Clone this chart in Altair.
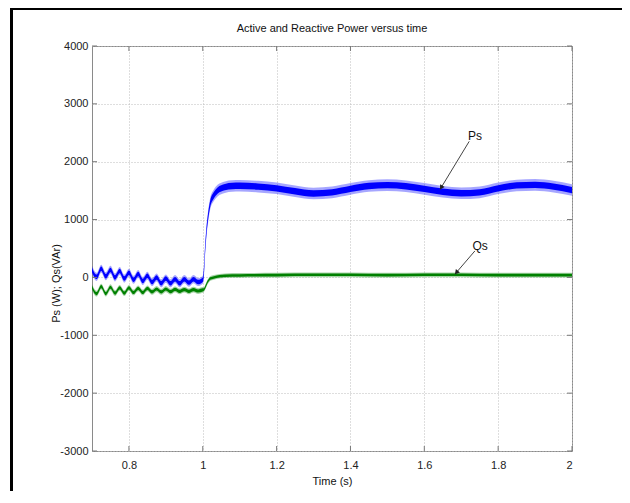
import math
import altair as alt
import pandas as pd

# ---------------- data ----------------
t_osc = [0.7, 0.7125, 0.725, 0.7375, 0.75, 0.7625, 0.775, 0.7875, 0.8, 0.8125,
         0.825, 0.8375, 0.85, 0.8625, 0.875, 0.8875, 0.9, 0.9125, 0.925, 0.9375,
         0.95, 0.9625, 0.975, 0.9875, 1.0]

ps_osc = [130, 10, 150, 20, 130, 0, 110, -20, 80, -40,
          60, -60, 30, -80, 0, -100, -20, -100, -30, -100,
          -30, -90, -30, -80, -40]
qs_osc = [-170, -280, -160, -280, -170, -270, -180, -270, -180, -260,
          -190, -260, -190, -250, -200, -250, -200, -245, -205, -240,
          -210, -240, -210, -235, -215]

ps_t_after = [1.003, 1.006, 1.01, 1.015, 1.02, 1.03, 1.04, 1.06, 1.08, 1.1,
              1.15, 1.2, 1.25, 1.3, 1.35, 1.4, 1.45, 1.5, 1.55, 1.6,
              1.65, 1.7, 1.75, 1.8, 1.85, 1.9, 1.95, 2.0]
ps_v_after = [100, 450, 800, 1080, 1270, 1420, 1500, 1560, 1580, 1585,
              1570, 1540, 1490, 1450, 1470, 1530, 1580, 1595, 1575, 1530,
              1480, 1455, 1470, 1540, 1590, 1600, 1570, 1510]

qs_t_after = [1.003, 1.008, 1.012, 1.016, 1.02, 1.03, 1.045, 1.06, 1.1, 1.2,
              1.3, 1.4, 1.5, 1.6, 1.7, 1.8, 1.9, 2.0]
qs_v_after = [-210, -150, -90, -50, -20, 0, 20, 30, 35, 40,
              45, 45, 40, 45, 45, 40, 40, 40]

# half thickness of the noisy trace (W / VAr), before and after the step
ps_spread = [70, 100]
qs_spread = [50, 40]

series_names = ["Ps", "Qs"]
series_colors = ["#0000ff", "#008000"]

x_ticks = [0.8, 1.0, 1.2, 1.4, 1.6, 1.8, 2.0]
y_ticks = [-3000, -2000, -1000, 0, 1000, 2000, 3000, 4000]

annot_labels = ["Ps", "Qs"]
annot_text_t = [1.737, 1.751]
annot_text_v = [2450, 544]
arrow_start_t = [1.7216, 1.737]
arrow_start_v = [2352, 458]
arrow_tip_t = [1.6426, 1.683]
arrow_tip_v = [1521, 57]

title_text = "Active and Reactive Power versus time"
x_title = "Time (s)"
y_title = "Ps (W); Qs(VAr)"

# ---------------- layout ----------------
W, H = 480, 405
PAD_L, PAD_T, PAD_R, PAD_B = 84, 38, 50, 40
X0, X1 = 0.7, 2.0
Y0, Y1 = -3000, 4000
FONT = "Liberation Sans"

rows = []
def add_series(name, ts, vs, spread):
    for t, v in zip(ts, vs):
        s = spread[0] if t <= 1.0 else spread[1]
        rows.append({"series": name, "t": t, "lo": v - s, "hi": v + s,
                     "lo_in": v - 0.55 * s, "hi_in": v + 0.55 * s})

add_series("Ps", t_osc + ps_t_after, ps_osc + ps_v_after, ps_spread)
add_series("Qs", t_osc + qs_t_after, qs_osc + qs_v_after, qs_spread)
df = pd.DataFrame(rows)

xscale = alt.Scale(domain=[X0, X1], nice=False, zero=False)
yscale = alt.Scale(domain=[Y0, Y1], nice=False, zero=False)
cscale = alt.Scale(domain=series_names, range=series_colors)

x_axis = alt.Axis(values=x_ticks, format=".1~f", tickSize=0, domain=False,
                  grid=True, gridDash=[1, 2], gridColor="#bdbdbd",
                  labelFont=FONT, labelFontSize=11, labelColor="#222",
                  labelPadding=8, title=x_title, titleFont=FONT,
                  titleFontSize=11, titleFontWeight="normal", titleColor="#111",
                  titlePadding=5)
y_axis = alt.Axis(values=y_ticks, labelExpr="'' + datum.value", tickSize=0,
                  domain=False, grid=True, gridDash=[1, 2], gridColor="#bdbdbd",
                  labelFont=FONT, labelFontSize=11, labelColor="#222",
                  labelPadding=4, title=y_title, titleFont=FONT,
                  titleFontSize=11, titleFontWeight="normal", titleColor="#111",
                  titleX=-36, titleY=237, titleAngle=-90, titleAlign="center",
                  titleBaseline="middle")

def X(f):
    return alt.X(f, scale=xscale, axis=x_axis)

def Y(f):
    return alt.Y(f, scale=yscale, axis=y_axis)

base = alt.Chart(df)
outer = base.mark_area(opacity=0.35, interpolate="monotone").encode(
    x=X("t:Q"), y=Y("lo:Q"), y2=alt.Y2("hi:Q"),
    color=alt.Color("series:N", scale=cscale, legend=None),
)
inner = base.mark_area(opacity=1, interpolate="monotone").encode(
    x=X("t:Q"), y=Y("lo_in:Q"), y2=alt.Y2("hi_in:Q"),
    color=alt.Color("series:N", scale=cscale, legend=None),
)

# annotations
px_per_t = W / (X1 - X0)
px_per_v = H / (Y1 - Y0)
ann_rows = []
for i, lab in enumerate(annot_labels):
    dx = (arrow_tip_t[i] - arrow_start_t[i]) * px_per_t
    dy = -(arrow_tip_v[i] - arrow_start_v[i]) * px_per_v
    L = math.hypot(dx, dy)
    ang = math.degrees(math.atan2(dx, -dy)) % 360
    back = 3.0
    ht = arrow_tip_t[i] - (dx / L) * back / px_per_t
    hv = arrow_tip_v[i] + (dy / L) * back / px_per_v
    ann_rows.append({"label": lab, "tt": annot_text_t[i], "tv": annot_text_v[i],
                     "t0": arrow_start_t[i], "v0": arrow_start_v[i],
                     "t1": arrow_tip_t[i], "v1": arrow_tip_v[i],
                     "ht": ht, "hv": hv, "ang": ang})
ann = pd.DataFrame(ann_rows)

ann_text = alt.Chart(ann).mark_text(font=FONT, fontSize=12, color="#111").encode(
    x=X("tt:Q"), y=Y("tv:Q"), text="label:N",
)
ann_line = alt.Chart(ann).mark_rule(color="#444", strokeWidth=1).encode(
    x=X("t0:Q"), y=Y("v0:Q"), x2="t1:Q", y2="v1:Q",
)
ann_head = alt.Chart(ann).mark_point(shape="triangle", filled=True, size=28,
                                     color="#222", opacity=1).encode(
    x=X("ht:Q"), y=Y("hv:Q"),
    angle=alt.Angle("ang:Q", scale=None),
)

# inward tick marks (MATLAB box style)
xt = alt.Chart(pd.DataFrame({"v": x_ticks}))
yt = alt.Chart(pd.DataFrame({"v": y_ticks}))
tick_col = "#777"
xt_bot = xt.mark_rule(color=tick_col).encode(
    x=X("v:Q"), y=alt.value(H), y2=alt.value(H - 5))
xt_top = xt.mark_rule(color=tick_col).encode(
    x=X("v:Q"), y=alt.value(0), y2=alt.value(5))
yt_left = yt.mark_rule(color=tick_col).encode(
    y=Y("v:Q"), x=alt.value(0), x2=alt.value(5))
yt_right = yt.mark_rule(color=tick_col).encode(
    y=Y("v:Q"), x=alt.value(W), x2=alt.value(W - 5))

# outer black frame of the figure (right/bottom edges fall outside the page)
one = alt.Chart(pd.DataFrame({"k": [0]}))
frame = one.mark_rect(fill=None, filled=False, stroke="#000", strokeWidth=3).encode(
    x=alt.value(-80.5), x2=alt.value(W + PAD_R + 40),
    y=alt.value(-37.5), y2=alt.value(H + PAD_B + 40))
title_mark = one.mark_text(font=FONT, fontSize=11, color="#111",
                           baseline="alphabetic", align="center").encode(
    x=alt.value(W / 2), y=alt.value(-14), text=alt.value(title_text))

chart = alt.layer(
    outer, inner, ann_line, ann_head, ann_text,
    xt_bot, xt_top, yt_left, yt_right, frame, title_mark,
).properties(
    width=W, height=H,
    padding={"left": PAD_L, "top": PAD_T, "right": PAD_R, "bottom": PAD_B},
    autosize=alt.AutoSizeParams(type="none"),
    background="white",
).configure_view(stroke="#8a8a8a", strokeWidth=1)

chart.save("out.html", embed_options={"renderer": "svg", "actions": False})
